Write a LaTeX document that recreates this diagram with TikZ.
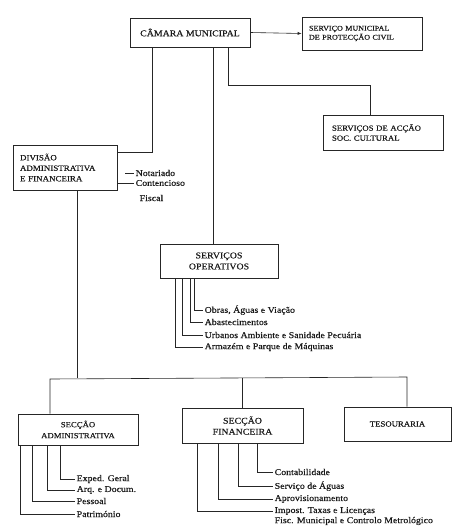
\documentclass[tikz,border=0pt]{standalone}
\usepackage{fontspec}
\setmainfont{Liberation Serif}[FakeStretch=1.12,FakeBold=0.4]
\usetikzlibrary{arrows.meta}
\begin{document}
\begin{tikzpicture}[x=1pt,y=-1pt,
  box/.style={draw=black!85, line width=0.6pt, inner sep=0pt, align=center, text=black!90},
  item/.style={anchor=west, inner sep=1.5pt, font=\fontsize{8.8}{10}\selectfont, text=black!90},
  conn/.style={draw=black!85, line width=0.6pt}]
\useasboundingbox (0,0) rectangle (455,527);

% main boxes
\node[box, minimum width=120, minimum height=29, font=\fontsize{8.8}{10}\selectfont] (cam) at (190,32.5) {CÂMARA MUNICIPAL};
\node[box, minimum width=120, minimum height=33, align=left, text width=106, font=\fontsize{7.2}{9}\selectfont] (smun) at (362,33.5) {SERVIÇO MUNICIPAL\\DE PROTECÇÃO CIVIL};
\node[box, minimum width=120, minimum height=35, align=left, text width=102, font=\fontsize{7.8}{10}\selectfont] (acc) at (383,132.5) {SERVIÇOS DE ACÇÃO\\SOC. CULTURAL};
\node[box, minimum width=104, minimum height=45, align=left, text width=90, font=\fontsize{8}{10.5}\selectfont] (div) at (65,167.5) {DIVISÃO\\ADMINISTRATIVA\\E FINANCEIRA};
\node[box, minimum width=118, minimum height=34, font=\fontsize{8.8}{11}\selectfont] (sop) at (219,261) {SERVIÇOS\\OPERATIVOS};
\node[box, minimum width=120, minimum height=31, font=\fontsize{7.8}{11}\selectfont] (sadm) at (78,429.5) {SECÇÃO\\ADMINISTRATIVA};
\node[box, minimum width=121, minimum height=35, font=\fontsize{8.8}{11}\selectfont] (sfin) at (242.5,425.5) {SECÇÃO\\FINANCEIRA};
\node[box, minimum width=107, minimum height=34, font=\fontsize{7.8}{10}\selectfont] (tes) at (397.5,424) {TESOURARIA};

% junction coordinates
\coordinate (j1) at (152,152);
\coordinate (j2) at (213,0);
\coordinate (j3) at (228,85);
\coordinate (j3b) at (370,85);
\coordinate (j4) at (77,378);
\coordinate (b1) at (50,379);
\coordinate (b2) at (242,378);
\coordinate (b3) at (407,377);

% connectors from Camara
\draw[conn, -{Latex[length=4pt,width=3pt]}] (cam.east) -- (smun.west);
\draw[conn] (cam.south -| j1) -- (j1) -- (j1 -| div.east);
\draw[conn] (cam.south -| j2) -- (sop.north -| j2);
\draw[conn] (cam.south -| j3) -- (j3) -- (j3b) -- (acc.north -| j3b);

% bus to sections
\draw[conn] (div.south -| j4) -- (j4);
\draw[conn] (sadm.north -| b1) -- (b1) -- (b3) -- (tes.north -| b3);
\draw[conn] (b2) -- (sfin.north -| b2);

% Divisao items
\node[item] (not) at (134,173) {Notariado};
\node[item] (con) at (134,183) {Contencioso};
\node[item] (fis) at (138,198) {Fiscal};
\coordinate (notx) at (125,173);
\draw[conn] (notx) -- (not.west);
\draw[conn] (con.west -| div.east) -- (con.west);

% Servicos Operativos items
\node[item] (o1) at (203,310) {Obras, Águas e Viação};
\node[item] (o2) at (203,322) {Abastecimentos};
\node[item] (o3) at (203,335) {Urbanos Ambiente e Sanidade Pecuária};
\node[item] (o4) at (203,347) {Armazém e Parque de Máquinas};
\coordinate (co1) at (194,0);
\coordinate (co2) at (190,0);
\coordinate (co3) at (182,0);
\coordinate (co4) at (175,0);
\draw[conn] (sop.south -| co1) |- (o1.west);
\draw[conn] (sop.south -| co2) |- (o2.west);
\draw[conn] (sop.south -| co3) |- (o3.west);
\draw[conn] (sop.south -| co4) |- (o4.west);

% Seccao Administrativa items
\node[item] (a1) at (75,479) {Exped. Geral};
\node[item] (a2) at (75,490) {Arq. e Docum.};
\node[item] (a3) at (75,501) {Pessoal};
\node[item] (a4) at (75,514) {Património};
\coordinate (ca1) at (60,0);
\coordinate (ca2) at (47,0);
\coordinate (ca3) at (32,0);
\coordinate (ca4) at (20,0);
\draw[conn] (sadm.south -| ca1) |- (a1.west);
\draw[conn] (sadm.south -| ca2) |- (a2.west);
\draw[conn] (sadm.south -| ca3) |- (a3.west);
\draw[conn] (sadm.south -| ca4) |- (a4.west);

% Seccao Financeira items
\node[item] (f1) at (273,472) {Contabilidade};
\node[item] (f2) at (273,486) {Serviço de Águas};
\node[item] (f3) at (273,499) {Aprovisionamento};
\node[item] (f4) at (273,511) {Impost. Taxas e Licenças};
\node[item] (f5) at (273,521) {Fisc. Municipal e Controlo Metrológico};
\coordinate (cf1) at (257,0);
\coordinate (cf2) at (238,0);
\coordinate (cf3) at (218,0);
\coordinate (cf4) at (197,0);
\draw[conn] (sfin.south -| cf1) |- (f1.west);
\draw[conn] (sfin.south -| cf2) |- (f2.west);
\draw[conn] (sfin.south -| cf3) |- (f3.west);
\draw[conn] (sfin.south -| cf4) |- (f4.west);
\end{tikzpicture}
\end{document}
